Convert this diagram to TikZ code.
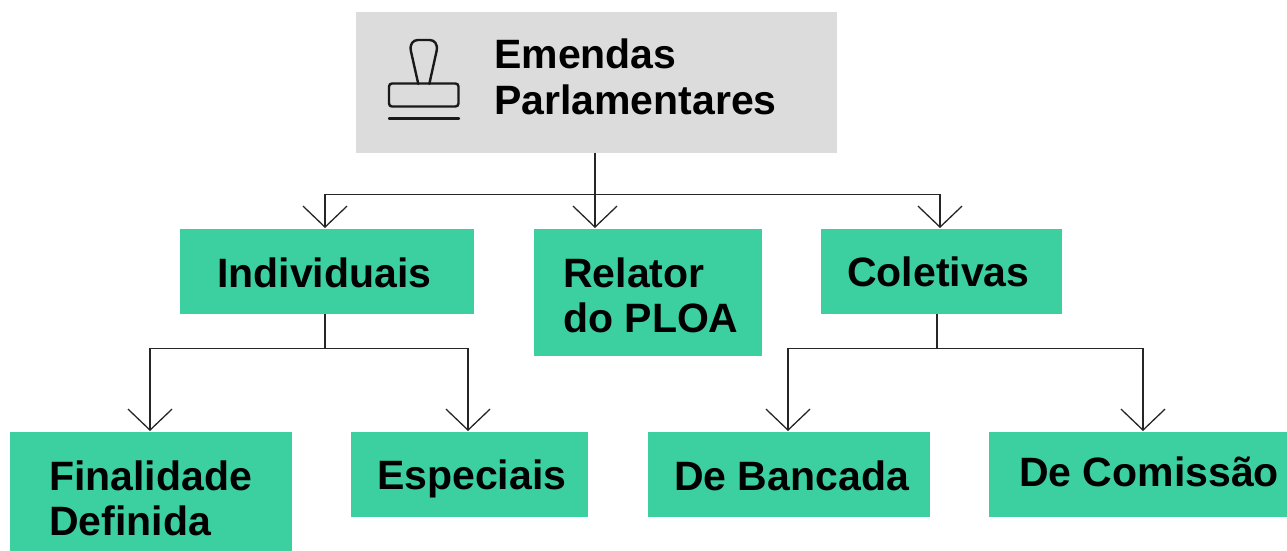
\documentclass[tikz,border=0pt]{standalone}
\usepackage{fontspec}
\setmainfont{Liberation Sans}
\usetikzlibrary{arrows.meta}
\definecolor{grn}{HTML}{3CCFA0}
\definecolor{gry}{HTML}{DCDCDC}
\tikzset{x=1pt,y=-1pt,
 box/.style={fill=grn,draw=none,inner sep=0,outer sep=0},
 lab/.style={inner sep=0,anchor=base west,font=\fontsize{41}{46}\selectfont\bfseries,text=black},
 conn/.style={draw=black!85,line width=1.3pt},
 arr/.style={conn,-{Straight Barb[length=21pt,width=44pt,line width=1.3pt]}},
 icon/.style={draw=black!90,line width=2.4pt,line cap=round,line join=round}}
\newcommand{\boxat}[6][box]{\node[#1,minimum width=#4pt,minimum height=#5pt,anchor=north west] (#2) at (#3) {};}
\begin{document}
\begin{tikzpicture}
\useasboundingbox (0,0) rectangle (1287,551);
\fill[white] (0,0) rectangle (1287,551);
\boxat[box,fill=gry]{root}{356,12}{481}{141}{}
\boxat{ind}{180,229}{294}{85}{}
\boxat{rel}{534,229}{228}{127}{}
\boxat{col}{821,229}{241}{85}{}
\boxat{fin}{10,432}{282}{119}{}
\boxat{esp}{351,432}{237}{85}{}
\boxat{ban}{648,432}{282}{85}{}
\boxat{com}{989,432}{298}{85}{}
% stamp icon
\draw[icon] (418.3,84) -- (410.9,51) .. controls (409.5,44) and (413,40) .. (418,40) -- (429.5,40) .. controls (434.5,40) and (438,44) .. (436.6,51) -- (429.3,84);
\draw[icon,rounded corners=3pt] (389,83.5) rectangle (458.5,106.5);
\draw[icon] (389,118.4) -- (459,118.4);
\node[lab] (t1) at (494,68) {Emendas};
\node[lab] (t2) at (494,114) {Parlamentares};
\node[lab] (t3) at (217,287) {Individuais};
\node[lab] (t4) at (563,287) {Relator};
\node[lab] (t5) at (563,332) {do PLOA};
\node[lab] (t6) at (847,286) {Coletivas};
\node[lab] (t7) at (49,490) {Finalidade};
\node[lab] (t8) at (49,535) {Definida};
\node[lab] (t9) at (377,489) {Especiais};
\node[lab] (t10) at (674,490) {De Bancada};
\node[lab] (t11) at (1019,486) {De Comissão};
\coordinate (a1) at (325,228); \coordinate (a2) at (595,228); \coordinate (a3) at (940,228);
\coordinate (b1) at (150,431); \coordinate (b2) at (468,431); \coordinate (b3) at (788,431); \coordinate (b4) at (1143,431);
\coordinate (j0) at (595,194.5); \coordinate (j1) at (325,348.5); \coordinate (j2) at (937,348.5);
\draw[arr] (root.south -| a2) -- (a2);
\draw[arr] (j0) -| (a1);
\draw[arr] (j0) -| (a3);
\draw[arr] (ind.south -| j1) -- (j1) -| (b1);
\draw[arr] (j1) -| (b2);
\draw[arr] (col.south -| j2) -- (j2) -| (b3);
\draw[arr] (j2) -| (b4);
\end{tikzpicture}
\end{document}
